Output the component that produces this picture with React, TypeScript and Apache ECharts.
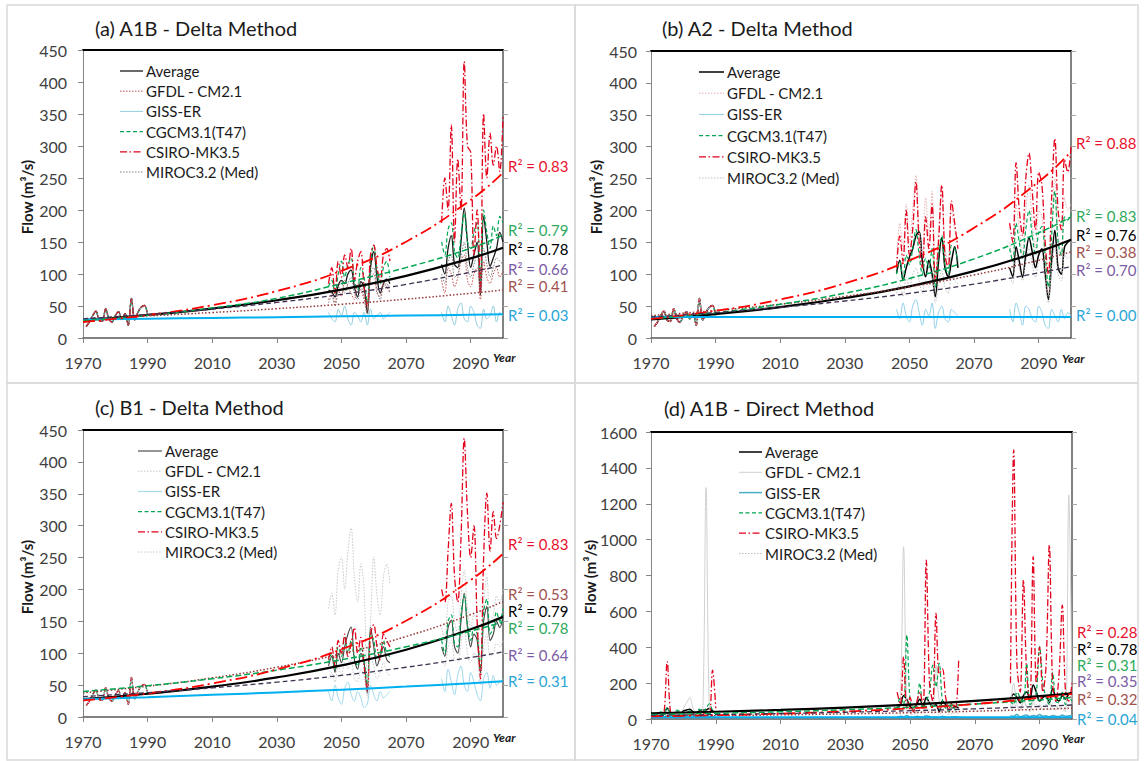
import React, { useEffect, useRef } from "react";
import * as echarts from "echarts";

// ---------- categories ----------
const MODELS = ["Average", "GFDL - CM2.1", "GISS-ER", "CGCM3.1(T47)", "CSIRO-MK3.5", "MIROC3.2 (Med)"];
const TITLES = ["(a) A1B - Delta Method", "(b) A2 - Delta Method", "(c) B1 - Delta Method", "(d) A1B - Direct Method"];
const Y_NAME = "Flow (m³/s)";
const X_NAME = "Year";
const YEARS_BASE = [1971, 1972, 1973, 1974, 1975, 1976, 1977, 1978, 1979, 1980, 1981, 1982, 1983, 1984, 1985, 1986, 1987, 1988, 1989, 1990];
const YEARS_MID = [2046, 2047, 2048, 2049, 2050, 2051, 2052, 2053, 2054, 2055, 2056, 2057, 2058, 2059, 2060, 2061, 2062, 2063, 2064, 2065];
const YEARS_END = [2081, 2082, 2083, 2084, 2085, 2086, 2087, 2088, 2089, 2090, 2091, 2092, 2093, 2094, 2095, 2096, 2097, 2098, 2099, 2100];
const TREND_YEARS = [1970, 1990, 2010, 2030, 2050, 2070, 2090, 2100];
const Y_MAX = [450, 450, 450, 1600];
const Y_STEP = [50, 50, 50, 200];

// ---------- observed baseline (delta method panels) ----------
const observed = [18, 25, 35, 42, 28, 26, 46, 30, 25, 35, 41, 30, 38, 20, 62, 28, 40, 48, 51, 36];

// model order: Average, GFDL, GISS, CGCM, CSIRO, MIROC
// ---------- panel (a) ----------
const aMid = [
  [75, 72, 64, 82, 90, 85, 100, 106, 80, 64, 88, 80, 39, 110, 135, 95, 70, 85, 92, 85],
  [60, 70, 55, 75, 65, 90, 80, 70, 60, 85, 75, 60, 40, 95, 100, 70, 65, 85, 80, 70],
  [40, 30, 25, 45, 35, 50, 30, 20, 40, 35, 25, 40, 20, 45, 30, 35, 40, 30, 35, 40],
  [80, 90, 70, 100, 120, 95, 115, 125, 90, 75, 110, 95, 55, 120, 145, 105, 85, 110, 120, 95],
  [85, 110, 70, 120, 95, 130, 110, 140, 90, 120, 135, 80, 50, 130, 145, 110, 90, 130, 140, 120],
  [55, 65, 50, 75, 90, 70, 85, 95, 70, 60, 80, 65, 35, 100, 110, 75, 60, 80, 85, 70],
];
const aEnd = [
  [115, 100, 140, 160, 115, 110, 150, 203, 150, 110, 130, 150, 67, 190, 150, 112, 125, 140, 165, 150],
  [90, 70, 110, 100, 80, 95, 120, 130, 90, 80, 100, 110, 60, 120, 95, 85, 100, 110, 95, 105],
  [40, 25, 50, 35, 20, 45, 55, 30, 25, 50, 40, 20, 15, 45, 30, 35, 50, 25, 40, 35],
  [150, 130, 170, 180, 135, 125, 160, 195, 150, 140, 165, 180, 90, 200, 165, 140, 175, 160, 190, 180],
  [180, 250, 200, 333, 150, 280, 200, 432, 300, 290, 130, 200, 70, 351, 250, 320, 270, 300, 260, 346],
  [100, 85, 120, 130, 95, 100, 125, 150, 110, 95, 115, 130, 70, 140, 115, 95, 110, 125, 120, 115],
];
const aTrend = [
  [28, 35.9, 46, 59, 75.7, 97.1, 124.5, 141],
  [30, 34.5, 39.8, 45.8, 52.7, 60.7, 69.9, 75],
  [29, 30.2, 31.4, 32.6, 33.8, 35, 36.3, 37],
  [27, 35.5, 46.8, 62, 85, 110, 140.3, 161],
  [25, 35.8, 51.3, 73.4, 105, 150.5, 215.7, 258],
  [30, 36.8, 45.2, 55.6, 68.2, 83.8, 102.9, 114],
];
const aR2 = ["0.78", "0.41", "0.03", "0.79", "0.83", "0.66"];

// ---------- panel (b) ----------
const bMid = [
  [102, 122, 91, 110, 127, 140, 160, 167, 120, 96, 122, 100, 65, 120, 157, 110, 96, 120, 143, 110],
  [120, 180, 140, 210, 150, 200, 255, 170, 130, 220, 160, 230, 100, 170, 225, 140, 120, 200, 170, 150],
  [45, 30, 55, 35, 25, 50, 60, 40, 20, 45, 35, 55, 15, 40, 50, 30, 25, 45, 40, 35],
  [100, 120, 90, 130, 115, 140, 170, 130, 100, 125, 110, 140, 80, 130, 160, 115, 100, 145, 140, 120],
  [110, 160, 120, 200, 130, 170, 245, 150, 110, 190, 140, 210, 90, 150, 240, 130, 110, 215, 180, 140],
  [70, 85, 65, 95, 80, 100, 110, 90, 70, 90, 80, 95, 55, 85, 105, 80, 70, 95, 90, 85],
];
const bEnd = [
  [110, 96, 143, 120, 95, 130, 157, 135, 110, 130, 140, 100, 60, 120, 169, 110, 100, 143, 150, 155],
  [150, 120, 210, 170, 130, 200, 240, 180, 140, 200, 190, 120, 70, 170, 250, 160, 130, 220, 200, 210],
  [45, 25, 55, 40, 20, 50, 45, 30, 25, 50, 40, 20, 15, 45, 35, 25, 45, 30, 40, 35],
  [140, 120, 180, 150, 125, 170, 200, 160, 130, 165, 175, 130, 80, 160, 230, 150, 130, 190, 185, 195],
  [180, 150, 275, 200, 160, 250, 290, 230, 170, 260, 240, 150, 100, 220, 313, 200, 170, 280, 260, 300],
  [100, 85, 130, 110, 90, 120, 140, 115, 95, 120, 125, 90, 55, 110, 150, 100, 90, 130, 125, 130],
];
const bTrend = [
  [29, 37.5, 48.5, 62.7, 81, 104.8, 135.4, 154],
  [35, 43.1, 53, 65.3, 80.3, 98.9, 121.7, 135],
  [33, 33, 33, 33, 33, 33, 33, 33],
  [30, 39.8, 52.9, 70.3, 93.4, 124.1, 164.9, 190],
  [30, 42.6, 60.4, 85.7, 121.7, 172.7, 245, 292],
  [33, 39.8, 48.1, 58, 70, 84.5, 102, 112],
];
const bR2 = ["0.76", "0.38", "0.00", "0.83", "0.88", "0.70"];

// ---------- panel (c) ----------
const cMid = [
  [80, 95, 70, 100, 85, 110, 130, 141, 90, 75, 100, 85, 37, 141, 110, 80, 95, 110, 90, 85],
  [170, 194, 160, 230, 251, 200, 260, 296, 220, 180, 240, 200, 58, 150, 251, 190, 160, 220, 240, 210],
  [40, 25, 50, 30, 20, 45, 55, 35, 25, 40, 30, 15, 20, 50, 35, 25, 40, 30, 35, 40],
  [85, 100, 75, 110, 95, 125, 100, 120, 95, 80, 110, 90, 45, 130, 120, 90, 100, 120, 100, 95],
  [90, 110, 80, 120, 100, 130, 95, 115, 140, 100, 125, 80, 40, 130, 145, 110, 90, 130, 120, 110],
  [60, 70, 55, 80, 65, 85, 75, 90, 60, 55, 75, 65, 30, 95, 80, 60, 70, 85, 70, 65],
];
const cEnd = [
  [110, 95, 140, 152, 110, 100, 150, 194, 140, 110, 130, 120, 69, 150, 173, 120, 130, 150, 140, 160],
  [140, 120, 180, 190, 150, 130, 190, 230, 170, 140, 160, 150, 90, 180, 220, 150, 160, 190, 180, 200],
  [60, 40, 75, 55, 35, 65, 80, 50, 40, 70, 55, 35, 25, 60, 70, 45, 65, 50, 55, 60],
  [120, 100, 150, 160, 115, 110, 160, 190, 145, 120, 140, 130, 75, 165, 185, 130, 140, 165, 150, 170],
  [200, 180, 260, 335, 220, 180, 280, 437, 320, 250, 300, 150, 60, 250, 351, 260, 322, 280, 300, 337],
  [90, 80, 110, 120, 90, 85, 115, 140, 100, 85, 100, 95, 50, 110, 130, 95, 100, 115, 110, 120],
];
const cTrend = [
  [28, 36.5, 47.6, 62, 80.9, 105.5, 137.5, 157],
  [38, 48.3, 61.4, 78.1, 99.3, 126.2, 160.6, 181],
  [28, 31.1, 34.7, 38.6, 42.9, 47.7, 53.1, 56],
  [40, 49, 60, 73.4, 89.8, 110, 134.7, 149],
  [26, 37, 52.6, 74.7, 106.2, 151, 214.7, 256],
  [32, 38.2, 45.7, 54.6, 65.3, 78, 93.3, 102],
];
const cR2 = ["0.79", "0.53", "0.31", "0.78", "0.83", "0.64"];

// ---------- panel (d) ----------
const dBase = [
  [25, 30, 35, 30, 60, 35, 30, 40, 35, 45, 50, 55, 40, 35, 45, 50, 50, 60, 45, 40],
  [30, 20, 40, 25, 50, 30, 20, 45, 35, 60, 90, 120, 60, 30, 40, 50, 1290, 60, 40, 50],
  [10, 8, 12, 10, 15, 10, 8, 12, 10, 14, 12, 10, 8, 12, 15, 10, 12, 14, 10, 12],
  [30, 25, 40, 35, 65, 30, 25, 50, 40, 30, 35, 45, 30, 40, 55, 40, 60, 85, 50, 40],
  [10, 20, 15, 30, 320, 40, 15, 10, 20, 15, 25, 20, 30, 15, 20, 25, 40, 20, 273, 60],
  [20, 15, 25, 20, 30, 20, 15, 25, 20, 30, 25, 20, 15, 25, 30, 20, 25, 35, 20, 25],
];
const dMid = [
  [60, 80, 130, 110, 70, 60, 80, 110, 70, 120, 90, 70, 80, 40, 100, 80, 50, 60, 70, 60],
  [50, 100, 960, 80, 40, 60, 30, 50, 40, 80, 100, 60, 300, 100, 50, 70, 40, 60, 50, 40],
  [10, 15, 12, 20, 10, 8, 15, 12, 10, 18, 14, 8, 12, 6, 15, 12, 8, 10, 12, 10],
  [60, 120, 80, 468, 100, 50, 80, 200, 60, 100, 150, 300, 180, 310, 100, 60, 40, 80, 50, 60],
  [150, 80, 347, 60, 120, 40, 90, 150, 60, 886, 200, 100, 590, 250, 280, 120, 60, 90, 60, 330],
  [30, 40, 60, 50, 30, 25, 40, 50, 35, 60, 45, 30, 40, 20, 50, 40, 25, 30, 35, 30],
];
const dEnd = [
  [110, 140, 120, 90, 130, 150, 110, 190, 150, 100, 120, 130, 90, 170, 120, 100, 130, 110, 140, 150],
  [60, 200, 80, 50, 100, 70, 40, 90, 60, 80, 50, 70, 100, 60, 50, 80, 60, 40, 1250, 80],
  [20, 15, 25, 12, 18, 22, 14, 20, 16, 25, 15, 18, 12, 20, 16, 14, 22, 15, 18, 20],
  [100, 80, 150, 120, 90, 310, 80, 100, 150, 403, 200, 120, 80, 260, 100, 90, 150, 80, 120, 100],
  [200, 1500, 300, 150, 775, 250, 100, 905, 200, 400, 150, 300, 970, 200, 100, 250, 635, 150, 100, 200],
  [60, 80, 70, 50, 90, 70, 50, 100, 80, 60, 70, 80, 50, 90, 70, 60, 80, 60, 70, 80],
];
const dTrend = [
  [32, 40.3, 50.7, 63.9, 80.4, 101.2, 127.4, 143],
  [15, 18.6, 23, 28.4, 35.2, 43.6, 53.9, 60],
  [10, 10, 10, 10, 10, 10, 10, 10],
  [25, 31.8, 40.5, 51.6, 65.6, 83.6, 106.4, 120],
  [15, 21.1, 29.8, 42, 59.3, 83.6, 117.9, 140],
  [20, 24.7, 30.4, 37.5, 46.2, 57, 70.2, 78],
];
const dR2 = ["0.78", "0.32", "0.04", "0.31", "0.28", "0.35"];

const BASES = [
  [observed, observed, observed, observed, observed, observed],
  [observed, observed, observed, observed, observed, observed],
  [observed, observed, observed, observed, observed, observed],
  dBase,
];
const MIDS = [aMid, bMid, cMid, dMid];
const ENDS = [aEnd, bEnd, cEnd, dEnd];
const TRENDS = [aTrend, bTrend, cTrend, dTrend];
const R2S = [aR2, bR2, cR2, dR2];

// ---------- layout & styles ----------
const FONT = "Lato, 'Open Sans', sans-serif";
const GRIDS = [
  { left: 83, top: 50, width: 420, height: 288 },
  { left: 651, top: 51, width: 420, height: 287 },
  { left: 83, top: 430, width: 420, height: 287 },
  { left: 651, top: 432, width: 421, height: 287 },
];
const FRAMES = [
  [7, 5, 568, 378],
  [575, 5, 563, 378],
  [7, 383, 568, 377],
  [575, 383, 563, 377],
];
const TITLE_POS = [[95, 28], [662, 28], [95, 407], [664, 408]];
const YNAME_POS = [[27, 197], [596, 197], [27, 577], [590, 577]];
const YEAR_POS = [[493, 357], [1062, 358], [493, 737], [1062, 738]];
const YLABEL_MARGIN = [16, 14, 16, 14];
const LEGEND_POS = [
  { x1: 120, x2: 143, tx: 146, y0: 71, dy: 20.2 },
  { x1: 699, x2: 724, tx: 727, y0: 72, dy: 21.2 },
  { x1: 138, x2: 162, tx: 165, y0: 451, dy: 20.2 },
  { x1: 739, x2: 762, tx: 765, y0: 452, dy: 20.3 },
];
const R2_X = [508, 1076, 508, 1077];
const R2_Y = [
  [249, 286, 315, 230, 166, 269],
  [235, 252, 315, 216, 143, 270],
  [611, 594, 681, 628, 544, 655],
  [649, 699, 719, 665, 632, 681],
];
const R2_COLORS = ["#000000", "#a0524d", "#2aa5d6", "#2eaa5c", "#e8112d", "#7c5ba6"];

type LS = { color: string; width: number; dash?: number[] };
const DOT = [1.5, 1.5];
const DASH = [4, 2.5];
const DASHDOT = [7, 2.5, 1.5, 2.5];
const NOISE_STYLES: LS[][] = [
  [
    { color: "#1a1a1a", width: 1.3 },
    { color: "#c0504d", width: 1, dash: DOT },
    { color: "#92cddc", width: 1 },
    { color: "#00a651", width: 1.2, dash: DASH },
    { color: "#e3001b", width: 1.3, dash: DASHDOT },
    { color: "#7f7f7f", width: 1, dash: DOT },
  ],
  [
    { color: "#000000", width: 1.5 },
    { color: "#e6b0b0", width: 1, dash: DOT },
    { color: "#8fd0e8", width: 1 },
    { color: "#00a651", width: 1.2, dash: DASH },
    { color: "#e3001b", width: 1.3, dash: DASHDOT },
    { color: "#bfbfbf", width: 1, dash: DOT },
  ],
  [
    { color: "#404040", width: 1.1 },
    { color: "#c8c8c8", width: 1, dash: DOT },
    { color: "#9dd7ea", width: 1 },
    { color: "#00a651", width: 1.2, dash: DASH },
    { color: "#e3001b", width: 1.3, dash: DASHDOT },
    { color: "#c8c8c8", width: 1, dash: DOT },
  ],
  [
    { color: "#000000", width: 1.5 },
    { color: "#d0d0d0", width: 1 },
    { color: "#4bacc6", width: 1.5 },
    { color: "#00a651", width: 1.2, dash: DASH },
    { color: "#e3001b", width: 1.3, dash: DASHDOT },
    { color: "#bfbfbf", width: 1, dash: DOT },
  ],
];
const TREND_STYLES: LS[] = [
  { color: "#000000", width: 2.2 },
  { color: "#953735", width: 1.5, dash: [1.5, 2] },
  { color: "#00b0f0", width: 2 },
  { color: "#00a651", width: 1.5, dash: [6, 3] },
  { color: "#ff0000", width: 1.8, dash: [12, 4, 2, 4] },
  { color: "#403152", width: 1.3, dash: [5, 3] },
];

function seg(base: number[], mid: number[], end: number[]) {
  const out: any[] = [];
  YEARS_BASE.forEach((y, i) => out.push([y, base[i]]));
  out.push([2018, "-"]);
  YEARS_MID.forEach((y, i) => out.push([y, mid[i]]));
  out.push([2073, "-"]);
  YEARS_END.forEach((y, i) => out.push([y, end[i]]));
  return out;
}

const plain = (v: number) => String(v);

function buildOption() {
  const xAxis: any[] = [];
  const yAxis: any[] = [];
  const series: any[] = [];
  const graphic: any[] = [];

  GRIDS.forEach((g, p) => {
    xAxis.push({
      type: "value", gridIndex: p, min: 1970, max: 2100, interval: 20,
      axisLine: { show: true, onZero: false, lineStyle: { color: "#595959", width: 1.5 } },
      axisTick: { show: true, length: 5, lineStyle: { color: "#868686" } },
      axisLabel: { fontSize: 16, fontFamily: FONT, color: "#404040", margin: 16, showMaxLabel: false, formatter: plain },
      splitLine: { show: false },
    });
    xAxis.push({
      type: "value", gridIndex: p, position: "top", min: 1970, max: 2100, interval: 20,
      axisLine: { show: true, onZero: false, lineStyle: { color: "#000000", width: 2 } },
      axisTick: { show: false }, axisLabel: { show: false }, splitLine: { show: false },
    });
    yAxis.push({
      type: "value", gridIndex: p, min: 0, max: Y_MAX[p], interval: Y_STEP[p],
      axisLine: { show: true, onZero: false, lineStyle: { color: "#868686", width: 1 } },
      axisTick: { show: true, length: 5, lineStyle: { color: "#868686" } },
      axisLabel: { fontSize: 16, fontFamily: FONT, color: "#404040", margin: YLABEL_MARGIN[p], formatter: plain },
      splitLine: { show: false },
    });
    yAxis.push({
      type: "value", gridIndex: p, position: "right", min: 0, max: Y_MAX[p], interval: Y_STEP[p],
      axisLine: { show: true, onZero: false, lineStyle: { color: "#595959", width: 1.5 } },
      axisTick: { show: true, length: 5, lineStyle: { color: "#a6a6a6" } },
      axisLabel: { show: false }, splitLine: { show: false },
    });

    // noisy model series
    MODELS.forEach((name, m) => {
      const st = NOISE_STYLES[p][m];
      series.push({
        name, type: "line", xAxisIndex: 2 * p, yAxisIndex: 2 * p,
        data: seg(BASES[p][m], MIDS[p][m], ENDS[p][m]),
        symbol: "none", showSymbol: false, smooth: 0.35, connectNulls: false, silent: true, z: 2,
        lineStyle: { color: st.color, width: st.width, type: st.dash || "solid" },
      });
    });
    // trend lines
    MODELS.forEach((name, m) => {
      const st = TREND_STYLES[m];
      series.push({
        name: name + " trend", type: "line", xAxisIndex: 2 * p, yAxisIndex: 2 * p,
        data: TREND_YEARS.map((y, i) => [y, TRENDS[p][m][i]]),
        symbol: "none", showSymbol: false, smooth: 0.5, silent: true, z: 3,
        lineStyle: { color: st.color, width: st.width, type: st.dash || "solid" },
      });
    });

    // frame
    const f = FRAMES[p];
    graphic.push({ type: "rect", shape: { x: f[0], y: f[1], width: f[2], height: f[3] }, style: { fill: "none", stroke: "#d9d9d9", lineWidth: 1.5 }, z: -10, silent: true });
    // title
    graphic.push({
      type: "text", x: TITLE_POS[p][0], y: TITLE_POS[p][1], silent: true,
      style: { text: TITLES[p], font: `20px ${FONT}`, fill: "#1a1a1a", textAlign: "left", textVerticalAlign: "middle", align: "left", verticalAlign: "middle" },
    });
    // y name
    graphic.push({
      type: "text", x: YNAME_POS[p][0], y: YNAME_POS[p][1], rotation: Math.PI / 2, silent: true,
      style: { text: Y_NAME, font: `bold 15px ${FONT}`, fill: "#1a1a1a", textAlign: "center", textVerticalAlign: "middle", align: "center", verticalAlign: "middle" },
    });
    // Year
    graphic.push({
      type: "text", x: YEAR_POS[p][0], y: YEAR_POS[p][1], silent: true,
      style: { text: X_NAME, font: `italic bold 12px ${FONT}`, fill: "#1a1a1a", textAlign: "left", textVerticalAlign: "middle", align: "left", verticalAlign: "middle" },
    });
    // legend
    const L = LEGEND_POS[p];
    MODELS.forEach((name, m) => {
      const st = NOISE_STYLES[p][m];
      const y = L.y0 + m * L.dy;
      graphic.push({
        type: "line", silent: true, shape: { x1: L.x1, y1: y, x2: L.x2, y2: y },
        style: { stroke: st.color, lineWidth: Math.max(1, st.width), lineDash: st.dash || null },
      });
      graphic.push({
        type: "text", x: L.tx, y, silent: true,
        style: { text: name, font: `15px ${FONT}`, fill: "#1a1a1a", textAlign: "left", textVerticalAlign: "middle", align: "left", verticalAlign: "middle" },
      });
    });
    // R² labels
    MODELS.forEach((_, m) => {
      graphic.push({
        type: "text", x: R2_X[p], y: R2_Y[p][m], silent: true,
        style: { text: "R² = " + R2S[p][m], font: `15px ${FONT}`, fill: R2_COLORS[m], textAlign: "left", textVerticalAlign: "middle", align: "left", verticalAlign: "middle" },
      });
    });
  });

  return {
    animation: false,
    backgroundColor: "#ffffff",
    grid: GRIDS.map((g) => ({ ...g, containLabel: false })),
    xAxis, yAxis, series, graphic,
  };
}

export default function App() {
  const ref = useRef<HTMLDivElement>(null);
  useEffect(() => {
    if (!ref.current) return;
    const chart = echarts.init(ref.current, undefined, { renderer: "svg" });
    chart.setOption(buildOption() as any);
    return () => chart.dispose();
  }, []);
  return (
    <div
      ref={ref}
      style={{ position: "absolute", left: 0, top: 0, width: 1148, height: 761, background: "#ffffff" }}
    />
  );
}
